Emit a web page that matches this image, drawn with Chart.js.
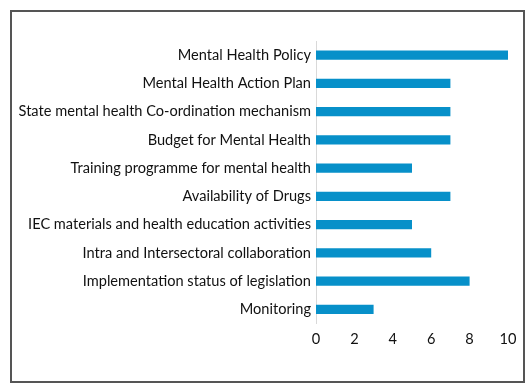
<!DOCTYPE html>
<html>
<head>
<meta charset="utf-8">
<script src="https://cdn.jsdelivr.net/npm/chart.js@4.4.1/dist/chart.umd.min.js"></script>
<style>
  body { margin: 0; background: #fff; }
  #wrap { position: relative; width: 531px; height: 390px; }
  #frame { position: absolute; left: 10px; top: 10px; width: 511px; height: 369px; border: 2px solid #555; }
  canvas { position: absolute; left: 0; top: 0; }
</style>
</head>
<body>
<div id="wrap">
  <div id="frame"></div>
  <canvas id="barChart" width="531" height="390"></canvas>
</div>
<script>
var categories = [
  "Mental Health Policy",
  "Mental Health Action Plan",
  "State mental health Co-ordination mechanism",
  "Budget for Mental Health",
  "Training programme for mental health",
  "Availability of Drugs",
  "IEC materials and health education activities",
  "Intra and Intersectoral collaboration",
  "Implementation status of legislation",
  "Monitoring"
];
var values = [10, 7, 7, 7, 5, 7, 5, 6, 8, 3];
var xTicks = [0, 2, 4, 6, 8, 10];

var labelFont = { family: "Lato, sans-serif", size: 14.6 };

var ctx = document.getElementById('barChart').getContext('2d');
var chart = new Chart(ctx, {
  type: 'bar',
  data: {
    labels: categories,
    datasets: [{
      data: values,
      backgroundColor: '#0790c9',
      barPercentage: 0.9,
      categoryPercentage: 0.37
    }]
  },
  options: {
    indexAxis: 'y',
    responsive: false,
    animation: false,
    layout: { padding: { top: 41, right: 23, bottom: 43, left: 0 } },
    plugins: { legend: { display: false }, tooltip: { enabled: false } },
    scales: {
      x: {
        min: 0,
        max: 10,
        afterBuildTicks: function (scale) {
          scale.ticks = xTicks.map(function (v) { return { value: v }; });
        },
        grid: { display: false },
        border: { display: false },
        ticks: { color: '#111', font: labelFont, padding: -1 }
      },
      y: {
        afterFit: function (scale) { scale.width = 316; },
        grid: { display: false, drawTicks: false },
        border: { display: true, color: '#d9d9d9', width: 1 },
        ticks: { color: '#111', font: labelFont, padding: 5 }
      }
    }
  }
});
</script>
</body>
</html>
